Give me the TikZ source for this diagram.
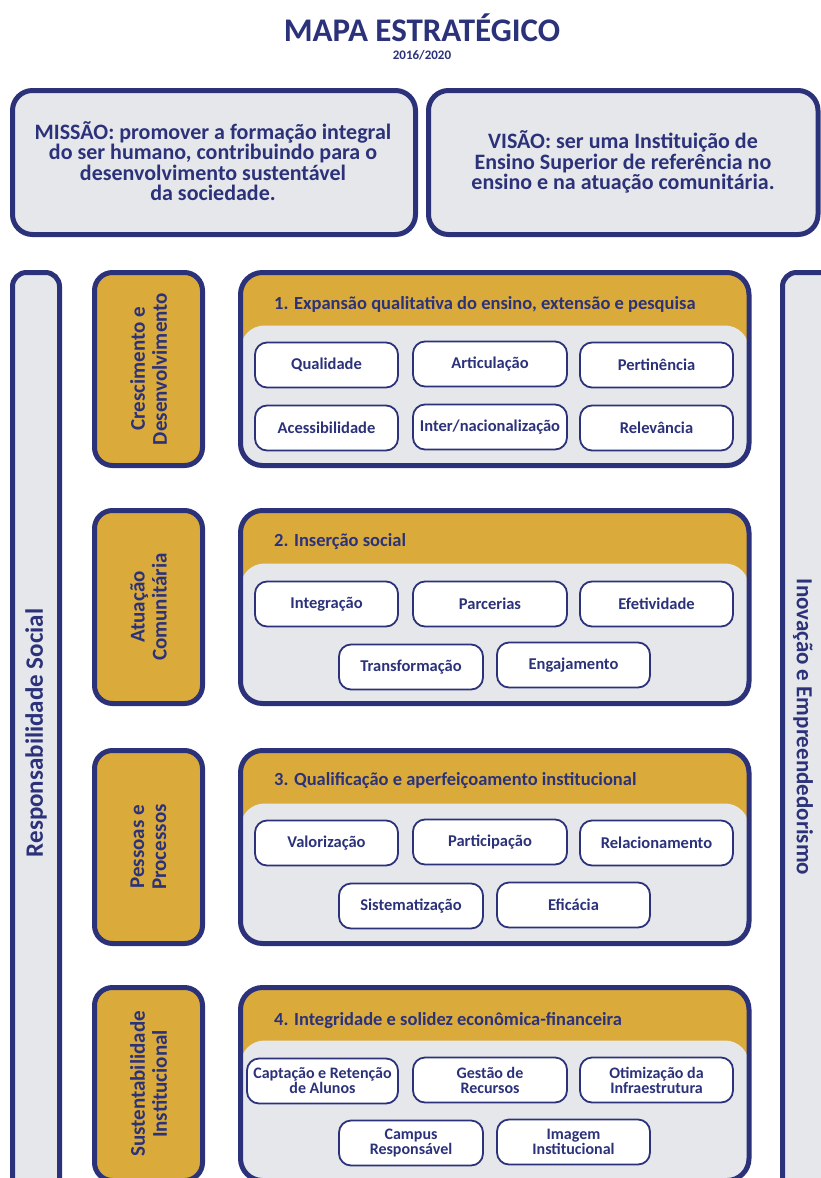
\documentclass[tikz,border=0pt]{standalone}
\usepackage{fontspec}
\setmainfont{Carlito}
\definecolor{navy}{RGB}{44,50,122}
\definecolor{gold}{RGB}{218,171,58}
\definecolor{lgray}{RGB}{230,231,234}
\tikzset{
  panel/.style={draw=navy, line width=5pt, fill=lgray, rounded corners=20pt, inner sep=0pt},
  paneltext/.style={text=navy, align=center, inner sep=0pt, font=\bfseries\fontsize{22}{20.5}\selectfont},
  bar/.style={draw=navy, line width=5pt, fill=lgray, rounded corners=14pt, inner sep=0pt},
  bartext/.style={text=navy, rotate=90, font=\bfseries\fontsize{23}{24}\selectfont, inner sep=0pt},
  sidebox/.style={draw=navy, line width=5pt, fill=gold, rounded corners=18pt, inner sep=0pt,
    minimum width=108pt, minimum height=193pt},
  sidetext/.style={text=navy, rotate=90, align=center, font=\bfseries\fontsize{21}{22}\selectfont, inner sep=0pt},
  grp/.style={draw=navy, line width=5pt, rounded corners=22pt, inner sep=0pt,
    minimum width=508.5pt, minimum height=193pt,
    path picture={
      \fill[gold] (path picture bounding box.north west) rectangle (path picture bounding box.south east);
      \fill[lgray, rounded corners=24pt] ([yshift=-53pt]path picture bounding box.north west)
        rectangle ([yshift=-40pt]path picture bounding box.south east);
    }},
  hdr/.style={anchor=west, text=navy, inner sep=0pt, font=\bfseries\fontsize{18.5}{20}\selectfont},
  pill/.style={draw=navy, line width=1.8pt, fill=white, rounded corners=12pt, inner sep=0pt,
    minimum height=45pt, text=navy, align=center, font=\bfseries\fontsize{16.5}{17}\selectfont},
  pill2/.style={pill, font=\bfseries\fontsize{16}{15}\selectfont},
}
\begin{document}
\begin{tikzpicture}[x=1pt,y=1pt]
\useasboundingbox (0,0) rectangle (821,-1178);
\clip (0,0) rectangle (821,-1178);
\fill[white] (0,0) rectangle (821,-1178);

% title
\node[text=navy, font=\bfseries\fontsize{33}{33}\selectfont, inner sep=0pt] (title) at (422,-28) {MAPA ESTRATÉGICO};
\node[text=navy, font=\bfseries\fontsize{13}{13}\selectfont, inner sep=0pt] (year) at (422,-55) {2016/2020};

% mission / vision
\node[panel, minimum width=403pt, minimum height=144pt] (missao) at (214,-162.5) {};
\node[paneltext] (missaotext) at (213,-161)
  {MISSÃO: promover a formação integral\\do ser humano, contribuindo para o\\desenvolvimento sustentável\\da sociedade.};
\node[panel, minimum width=389.5pt, minimum height=144pt] (visao) at (623.25,-162.5) {};
\node[paneltext] (visaotext) at (623,-162)
  {VISÃO: ser uma Instituição de\\Ensino Superior de referência no\\ensino e na atuação comunitária.};

% side bars
\node[bar, minimum width=47pt, minimum height=930pt] (leftbar) at (36,-737.5) {};
\node[bartext, font=\bfseries\fontsize{25}{25}\selectfont] (lefttext) at (36,-733) {Responsabilidade Social};
\node[bar, minimum width=60pt, minimum height=930pt] (rightbar) at (812.5,-737.5) {};
\node[bartext, rotate=180] (righttext) at (803,-727) {Inovação e Empreendedorismo};

% perspective boxes
\node[sidebox] (s1) at (148.5,-369) {};
\node[sidetext] (t1) at (s1) {Crescimento e\\Desenvolvimento};
\node[sidebox] (s2) at (148.5,-607) {};
\node[sidetext] (t2) at (s2) {Atuação\\Comunitária};
\node[sidebox] (s3) at (148.5,-847) {};
\node[sidetext] (t3) at (s3) {Pessoas e\\Processos};
\node[sidebox] (s4) at (148.5,-1084) {};
\node[sidetext] (t4) at (s4) {Sustentabilidade\\Institucional};

% group boxes
\node[grp] (g1) at (494.75,-369) {};
\node[hdr] (h1) at (274,-304) {1. Expansão qualitativa do ensino, extensão e pesquisa};
\node[grp] (g2) at (494.75,-607) {};
\node[hdr] (h2) at (274,-542) {2. Inserção social};
\node[grp] (g3) at (494.75,-847) {};
\node[hdr] (h3) at (274,-781) {3. Qualificação e aperfeiçoamento institucional};
\node[grp] (g4) at (494.75,-1084) {};
\node[hdr] (h4) at (274,-1021) {4. Integridade e solidez econômica-financeira};

% group 1 pills
\node[pill, minimum width=143pt] (p11) at (326.5,-365) {Qualidade};
\node[pill, minimum width=154pt] (p12) at (490,-364) {Articulação};
\node[pill, minimum width=153pt] (p13) at (656.5,-365) {Pertinência};
\node[pill, minimum width=143pt] (p14) at (326.5,-428) {Acessibilidade};
\node[pill, minimum width=154pt] (p15) at (490,-427) {Inter/nacionalização};
\node[pill, minimum width=153pt] (p16) at (656.5,-428) {Relevância};

% group 2 pills
\node[pill, minimum width=143pt] (p21) at (326.5,-604) {Integração};
\node[pill, minimum width=154pt] (p22) at (490,-604) {Parcerias};
\node[pill, minimum width=153pt] (p23) at (656.5,-604) {Efetividade};
\node[pill, minimum width=144pt] (p24) at (411,-667) {Transformação};
\node[pill, minimum width=153pt] (p25) at (573.5,-665) {Engajamento};

% group 3 pills
\node[pill, minimum width=143pt] (p31) at (326.5,-843) {Valorização};
\node[pill, minimum width=154pt] (p32) at (490,-842) {Participação};
\node[pill, minimum width=153pt] (p33) at (656.5,-843) {Relacionamento};
\node[pill, minimum width=144pt] (p34) at (411,-906) {Sistematização};
\node[pill, minimum width=153pt] (p35) at (573.5,-905) {Eficácia};

% group 4 pills
\node[pill2, minimum width=151pt] (p41) at (322.5,-1081) {Captação e Retenção\\de Alunos};
\node[pill2, minimum width=154pt] (p42) at (490,-1080) {Gestão de\\Recursos};
\node[pill2, minimum width=153pt] (p43) at (656.5,-1080) {Otimização da\\Infraestrutura};
\node[pill2, minimum width=144pt] (p44) at (411,-1143) {Campus\\Responsável};
\node[pill2, minimum width=153pt] (p45) at (573.5,-1142) {Imagem\\Institucional};
\end{tikzpicture}
\end{document}
